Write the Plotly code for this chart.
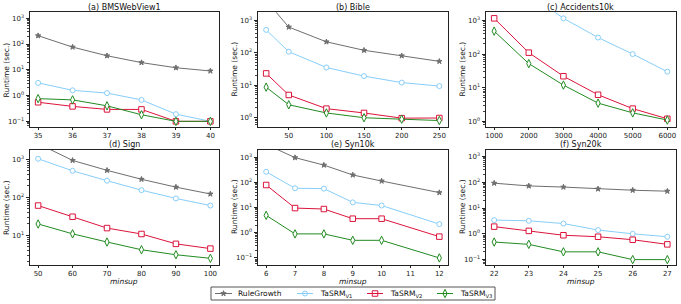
import plotly.graph_objects as go

# ---------------- data ----------------
titles = ["(a) BMSWebView1", "(b) Bible", "(c) Accidents10k",
          "(d) Sign", "(e) Syn10k", "(f) Syn20k"]

x_a = [35, 36, 37, 38, 39, 40]
rg_a = [210, 76, 35, 19, 12, 9]
v1_a = [3.1, 1.6, 1.25, 0.68, 0.19, 0.1]
v2_a = [0.55, 0.38, 0.29, 0.29, 0.1, 0.1]
v3_a = [0.76, 0.68, 0.4, 0.18, 0.1, 0.1]

x_b = [20, 50, 100, 150, 200, 250]
rg_b = [4000, 610, 215, 118, 80, 54]
v1_b = [500, 107, 35, 19, 12, 9.4]
v2_b = [23, 5.0, 1.9, 1.4, 0.97, 0.98]
v3_b = [8.7, 2.5, 1.4, 1.0, 0.9, 0.82]

x_c = [1000, 2000, 3000, 4000, 5000, 6000]
rg_c = [None, None, None, None, None, None]  # above the plotted range
v1_c = [20000, 6300, 1150, 310, 100, 30]
v2_c = [1150, 110, 22, 6.2, 2.4, 1.2]
v3_c = [480, 52, 12, 3.5, 1.8, 1.1]

x_d = [50, 60, 70, 80, 90, 100]
rg_d = [2600, 940, 515, 300, 186, 123]
v1_d = [1040, 500, 275, 155, 94, 61]
v2_d = [61, 31, 15.6, 10.9, 6.0, 4.5]
v3_d = [20, 11, 6.7, 4.2, 3.1, 2.5]

x_e = [6, 7, 8, 9, 10, 12]
rg_e = [3200, 950, 480, 195, 112, 39]
v1_e = [260, 58, 56, 16, 12, 2.2]
v2_e = [78, 9.5, 8.7, 3.6, 3.6, 0.7]
v3_e = [4.9, 0.9, 0.9, 0.5, 0.5, 0.1]

x_f = [22, 23, 24, 25, 26, 27]
rg_f = [92, 72, 65, 55, 49, 45]
v1_f = [3.4, 3.2, 2.5, 1.4, 1.0, 0.77]
v2_f = [1.9, 1.3, 0.88, 0.77, 0.59, 0.39]
v3_f = [0.48, 0.39, 0.2, 0.2, 0.1, 0.1]

x_ticks = [[35, 36, 37, 38, 39, 40],
           [50, 100, 150, 200, 250],
           [1000, 2000, 3000, 4000, 5000, 6000],
           [50, 60, 70, 80, 90, 100],
           [6, 7, 8, 9, 10, 11, 12],
           [22, 23, 24, 25, 26, 27]]
y_exps = [[-1, 0, 1, 2, 3], [0, 1, 2, 3], [0, 1, 2, 3],
          [1, 2, 3], [-1, 0, 1, 2, 3], [-1, 0, 1, 2, 3]]
y_ranges = [[-1.2, 3.23], [-0.27, 3.24], [-0.15, 3.24],
            [0.235, 3.26], [-1.26, 3.30], [-1.19, 3.27]]

series_names = ["RuleGrowth", "TaSRM<sub>V1</sub>", "TaSRM<sub>V2</sub>", "TaSRM<sub>V3</sub>"]
panels = [
    (x_a, [rg_a, v1_a, v2_a, v3_a]),
    (x_b, [rg_b, v1_b, v2_b, v3_b]),
    (x_c, [rg_c, v1_c, v2_c, v3_c]),
    (x_d, [rg_d, v1_d, v2_d, v3_d]),
    (x_e, [rg_e, v1_e, v2_e, v3_e]),
    (x_f, [rg_f, v1_f, v2_f, v3_f]),
]

# ---------------- styles ----------------
colors = ["#6e6e6e", "#87cefa", "#dc143c", "#228b22"]
symbols = ["star", "circle", "square", "diamond-tall"]
msizes = [4, 5, 5.5, 6]

W, H = 681, 304
col_px = [(29.5, 219), (257.5, 448), (485.5, 676)]
row_px = [(12.3, 126.5), (149.5, 264.5)]
FONT = "DejaVu Sans"

# legend box layout (pixels)
leg_box = (211, 287, 495, 300)
leg_keys = [(215, 232, 236), (297, 313, 318), (367, 383, 388), (437, 453, 458)]

fig = go.Figure()
layout = dict(
    width=W, height=H, margin=dict(l=0, r=0, t=0, b=0, autoexpand=False),
    paper_bgcolor="white", plot_bgcolor="rgba(0,0,0,0)",
    font=dict(family=FONT, size=7, color="#222"),
    showlegend=False,
)
annotations = []
shapes = []

for i, (xs, ys_list) in enumerate(panels):
    r, c = divmod(i, 3)
    xn = "x" if i == 0 else f"x{i+1}"
    yn = "y" if i == 0 else f"y{i+1}"
    xk = "xaxis" if i == 0 else f"xaxis{i+1}"
    yk = "yaxis" if i == 0 else f"yaxis{i+1}"
    x0, x1 = col_px[c]
    t0, t1 = row_px[r]
    xd = [x0 / W, x1 / W]
    yd = [1 - t1 / H, 1 - t0 / H]

    for k, ys in enumerate(ys_list):
        fig.add_trace(go.Scatter(
            x=xs, y=ys, mode="lines+markers", name=series_names[k],
            xaxis=xn, yaxis=yn, cliponaxis=True,
            line=dict(color=colors[k], width=1),
            marker=dict(symbol=symbols[k], size=msizes[k],
                        color=colors[k] if k == 0 else "white",
                        line=dict(color=colors[k], width=1)),
        ))

    xmin, xmax = min(xs), max(xs)
    pad = 0.05 * (xmax - xmin)
    minor_vals = [m * 10 ** e for e in range(-2, 4) for m in range(2, 10)]
    layout[xk] = dict(
        domain=xd, anchor=yn, range=[xmin - pad, xmax + pad],
        tickmode="array", tickvals=x_ticks[i], ticks="outside", ticklen=2.5,
        tickcolor="#222", showline=True, linecolor="#222", linewidth=1,
        mirror=True, showgrid=False, zeroline=False, automargin=False,
        tickfont=dict(size=7, family=FONT, color="#222"),
    )
    layout[yk] = dict(
        domain=yd, anchor=xn, type="log", range=y_ranges[i],
        tickmode="array", tickvals=[10 ** e for e in y_exps[i]],
        ticktext=[("10<sup>%s</sup>" % (str(e).replace("-", "\u2212"))) for e in y_exps[i]],
        ticks="outside", ticklen=3, tickcolor="#222",
        minor=dict(tickmode="array", tickvals=minor_vals, ticks="outside",
                   ticklen=1.5, tickcolor="#444", showgrid=False),
        showline=True, linecolor="#222", linewidth=1, mirror=True,
        showgrid=False, zeroline=False, automargin=False,
        tickfont=dict(size=7, family=FONT, color="#222"),
    )
    annotations.append(dict(
        text=titles[i], x=(xd[0] + xd[1]) / 2, y=yd[1], xref="paper", yref="paper",
        xanchor="center", yanchor="bottom", yshift=-1.5, showarrow=False,
        font=dict(size=8, family=FONT, color="#111"),
    ))
    annotations.append(dict(
        text="Runtime (sec.)", x=xd[0], y=(yd[0] + yd[1]) / 2,
        xref="paper", yref="paper", xanchor="right", yanchor="middle",
        xshift=-17, textangle=-90, showarrow=False,
        font=dict(size=7.5, family=FONT, color="#111"),
    ))
    if r == 1:
        annotations.append(dict(
            text="<i>minsup</i>", x=(xd[0] + xd[1]) / 2, y=yd[0],
            xref="paper", yref="paper", xanchor="center", yanchor="middle",
            yshift=-17, showarrow=False,
            font=dict(size=7.5, family=FONT, color="#111"),
        ))

# ---------------- legend (drawn by hand, matplotlib-style compact box) ----------------
lx = "x7"
ly = "y7"
layout["xaxis7"] = dict(domain=[0, 1], range=[0, W], visible=False, fixedrange=True, anchor=ly)
layout["yaxis7"] = dict(domain=[0, 1], range=[H, 0], visible=False, fixedrange=True, anchor=lx)
ymid = (leg_box[1] + leg_box[3]) / 2
shapes.append(dict(type="rect", xref=lx, yref=ly, x0=leg_box[0], x1=leg_box[2],
                   y0=leg_box[1], y1=leg_box[3], line=dict(color="#555", width=1),
                   fillcolor="white", layer="below"))
for k, (sx0, sx1, tx) in enumerate(leg_keys):
    shapes.append(dict(type="line", xref=lx, yref=ly, x0=sx0, x1=sx1, y0=ymid, y1=ymid,
                       line=dict(color=colors[k], width=1)))
    fig.add_trace(go.Scatter(
        x=[(sx0 + sx1) / 2], y=[ymid], xaxis=lx, yaxis=ly, mode="markers",
        name=series_names[k], hoverinfo="skip",
        marker=dict(symbol=symbols[k], size=msizes[k],
                    color=colors[k] if k == 0 else "white",
                    line=dict(color=colors[k], width=1)),
    ))
    annotations.append(dict(
        text=series_names[k], x=tx, y=ymid, xref=lx, yref=ly,
        xanchor="left", yanchor="middle", showarrow=False,
        font=dict(size=7.5, family=FONT, color="#111"),
    ))

layout["annotations"] = annotations
layout["shapes"] = shapes
fig.update_layout(**layout)
fig.write_html("out.html", config={"displayModeBar": False},
               post_script="document.body.style.margin='0px';")
